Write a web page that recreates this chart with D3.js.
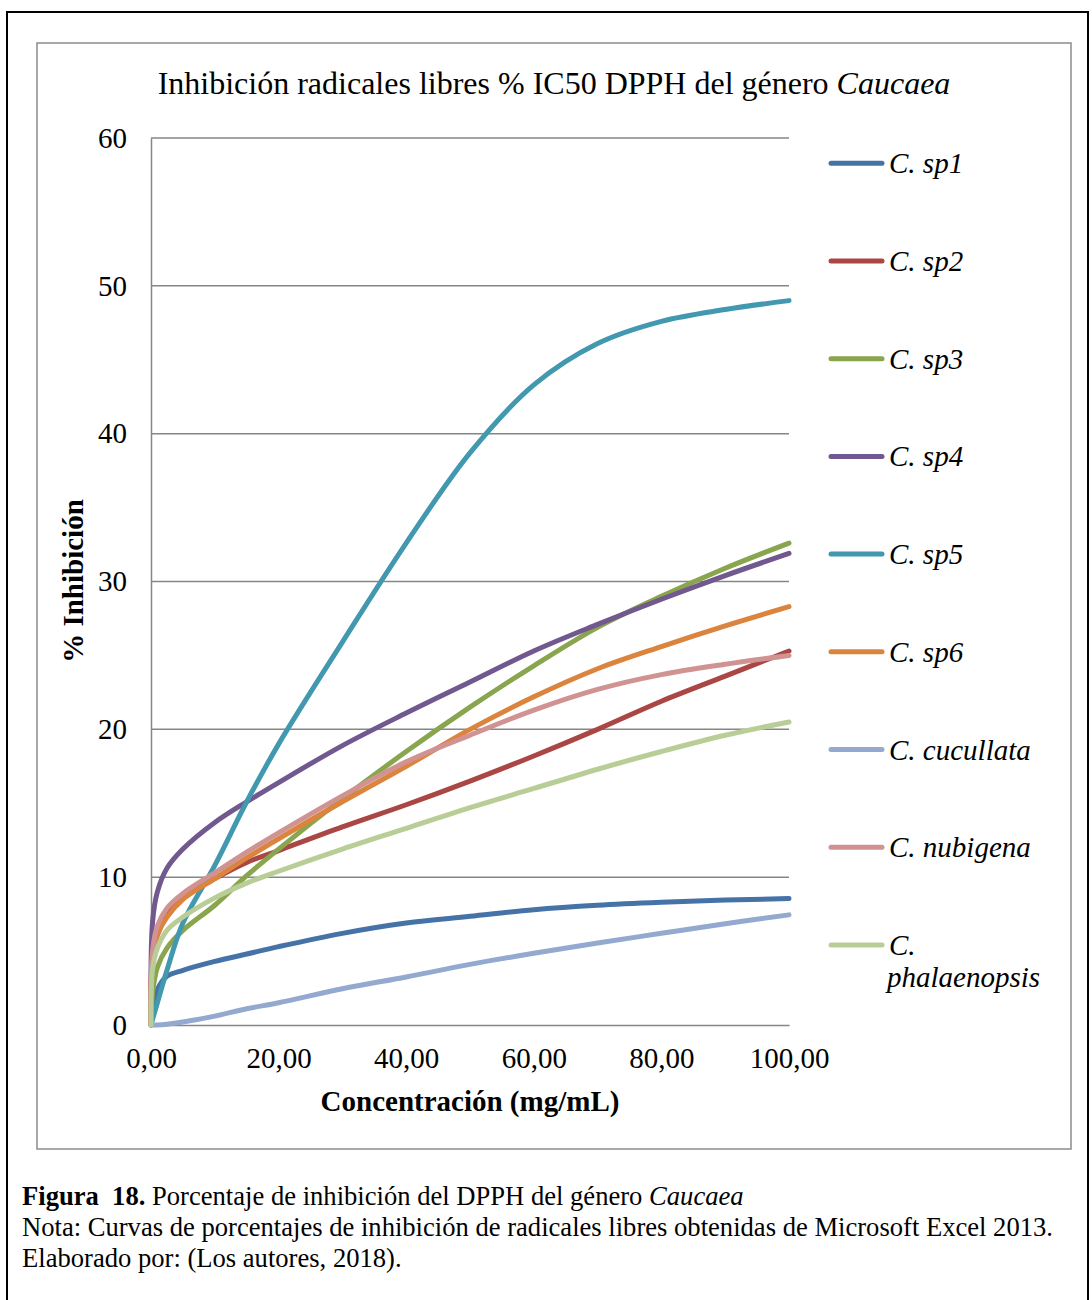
<!DOCTYPE html>
<html><head><meta charset="utf-8">
<script src="https://cdn.jsdelivr.net/npm/d3@7"></script>
<style>
body{margin:0;background:#fff;}
text{font-family:"Liberation Serif","Times New Roman",serif;}
</style></head>
<body>
<svg id="c" width="1092" height="1300"></svg>
<script>
// ---- data ----
const concentrations = [0, 0.25, 1, 2.5, 5, 10, 15, 20, 30, 40, 50, 60, 70, 80, 90, 100];
const seriesNames = ["C. sp1", "C. sp2", "C. sp3", "C. sp4", "C. sp5", "C. sp6", "C. cucullata", "C. nubigena", "C. phalaenopsis"];
const sp1 =          [0, 0.9, 2.4, 3.3, 3.7, 4.3, 4.8, 5.3, 6.2, 6.9, 7.35, 7.8, 8.1, 8.3, 8.45, 8.55];
const sp2 =          [0, 4.6, 6.1, 7.4, 8.6, 9.9, 11.0, 11.8, 13.4, 14.9, 16.5, 18.2, 20.0, 21.9, 23.6, 25.3];
const sp3 =          [0, 2.2, 3.9, 5.2, 6.4, 8.1, 10.1, 11.9, 15.3, 18.5, 21.5, 24.3, 26.9, 29.0, 30.9, 32.6];
const sp4 =          [0, 7.0, 9.0, 10.6, 11.9, 13.7, 15.1, 16.4, 18.9, 21.1, 23.2, 25.3, 27.1, 28.8, 30.4, 31.9];
const sp5 =          [0, 0.4, 1.5, 3.7, 6.9, 10.8, 15.1, 19.0, 25.9, 32.6, 38.7, 43.3, 46.1, 47.6, 48.4, 49.0];
const sp6 =          [0, 4.6, 6.1, 7.3, 8.5, 9.9, 11.3, 12.6, 15.1, 17.5, 20.0, 22.2, 24.1, 25.6, 27.0, 28.3];
const cucullata =    [0, 0, 0, 0.05, 0.2, 0.6, 1.1, 1.5, 2.45, 3.25, 4.1, 4.85, 5.55, 6.2, 6.85, 7.45];
const nubigena =     [0, 5.0, 6.7, 7.9, 8.9, 10.3, 11.7, 13.0, 15.5, 17.8, 19.6, 21.3, 22.7, 23.7, 24.4, 25.0];
const phalaenopsis = [0, 3.8, 5.2, 6.4, 7.3, 8.6, 9.6, 10.4, 11.9, 13.3, 14.7, 16.0, 17.3, 18.5, 19.6, 20.5];
const seriesValues = [sp1, sp2, sp3, sp4, sp5, sp6, cucullata, nubigena, phalaenopsis];
const colors = ["#4572A7", "#AA4643", "#89A54E", "#71588F", "#4198AF", "#DB843D", "#93A9CF", "#D19392", "#B9CD96"];
const yTicks = [0, 10, 20, 30, 40, 50, 60];
const xTicks = [0, 20, 40, 60, 80, 100];

// ---- layout ----
const svg = d3.select("#c");
const L = 151, R = 789, T = 138, B = 1025;
const x = d3.scaleLinear().domain([0, 100]).range([L, R]);
const y = d3.scaleLinear().domain([0, 60]).range([B, T]);

// outer black border
svg.append("rect").attr("x", 7).attr("y", 12).attr("width", 1081).attr("height", 1300)
  .attr("fill", "none").attr("stroke", "#000").attr("stroke-width", 2);
// chart frame
svg.append("rect").attr("x", 37).attr("y", 43).attr("width", 1034).attr("height", 1106)
  .attr("fill", "#fff").attr("stroke", "#8c8c8c").attr("stroke-width", 1.5);

// title
const title = svg.append("text").attr("x", 554).attr("y", 94).attr("text-anchor", "middle")
  .attr("font-size", 32).attr("fill", "#000");
title.append("tspan").text("Inhibición radicales libres % IC50 DPPH del género ");
title.append("tspan").attr("font-style", "italic").text("Caucaea");

// gridlines
svg.append("g").selectAll("line").data(yTicks.filter(d => d > 0)).join("line")
  .attr("x1", L).attr("x2", R).attr("y1", d => y(d)).attr("y2", d => y(d))
  .attr("stroke", "#868686").attr("stroke-width", 1.5);

// axes
const yAxis = d3.axisLeft(y).tickValues(yTicks).tickSize(0).tickPadding(24).tickFormat(d3.format("d"));
const gy = svg.append("g").attr("transform", `translate(${L},0)`).call(yAxis);
gy.select(".domain").attr("stroke", "#868686").attr("stroke-width", 1.5);
gy.selectAll("text").attr("font-size", 29).attr("font-family", "Liberation Serif").attr("fill", "#000");

const xAxis = d3.axisBottom(x).tickValues(xTicks).tickSize(0).tickPadding(22)
  .tickFormat(d => d3.format(".2f")(d).replace(".", ","));
const gx = svg.append("g").attr("transform", `translate(0,${B})`).call(xAxis);
gx.select(".domain").attr("stroke", "#868686").attr("stroke-width", 1.5);
gx.selectAll("text").attr("font-size", 29).attr("font-family", "Liberation Serif").attr("fill", "#000");

// axis titles
svg.append("text").attr("x", 470).attr("y", 1111).attr("text-anchor", "middle")
  .attr("font-size", 29).attr("font-weight", "bold").text("Concentración (mg/mL)");
svg.append("text").attr("transform", "translate(83,581) rotate(-90)").attr("text-anchor", "middle")
  .attr("font-size", 29).attr("font-weight", "bold").text("% Inhibición");

// series
const line = d3.line().x(d => x(d[0])).y(d => y(d[1])).curve(d3.curveCatmullRom.alpha(0.5));
seriesValues.forEach((vals, i) => {
  const pts = concentrations.map((c, j) => [c, vals[j]]);
  svg.append("path").datum(pts).attr("d", line).attr("fill", "none")
    .attr("stroke", colors[i]).attr("stroke-width", 5).attr("stroke-linejoin", "round").attr("stroke-linecap", "round");
});

// legend
const legY0 = 163.3, legStep = 97.7;
seriesNames.forEach((name, i) => {
  const yy = legY0 + i * legStep;
  svg.append("line").attr("x1", 831).attr("x2", 882).attr("y1", yy).attr("y2", yy)
    .attr("stroke", colors[i]).attr("stroke-width", 5).attr("stroke-linecap", "round");
  const parts = name === "C. phalaenopsis" ? ["C.", "phalaenopsis"] : [name];
  const t = svg.append("text").attr("x", 889).attr("y", yy + 10).attr("font-size", 29).attr("font-style", "italic");
  t.append("tspan").text(parts[0]);
  if (parts[1]) t.append("tspan").attr("x", 887).attr("dy", 32).text(parts[1]);
});

// caption
const cap = svg.append("g").attr("font-size", 26.6);
const c1 = cap.append("text").attr("x", 22).attr("y", 1205).attr("xml:space", "preserve").style("white-space", "pre");
c1.append("tspan").attr("font-weight", "bold").text("Figura  18.");
c1.append("tspan").text(" Porcentaje de inhibición del DPPH del género ");
c1.append("tspan").attr("font-style", "italic").text("Caucaea");
cap.append("text").attr("x", 22).attr("y", 1236).text("Nota: Curvas de porcentajes de inhibición de radicales libres obtenidas de Microsoft Excel 2013.");
cap.append("text").attr("x", 22).attr("y", 1267).text("Elaborado por: (Los autores, 2018).");
</script>
</body></html>
